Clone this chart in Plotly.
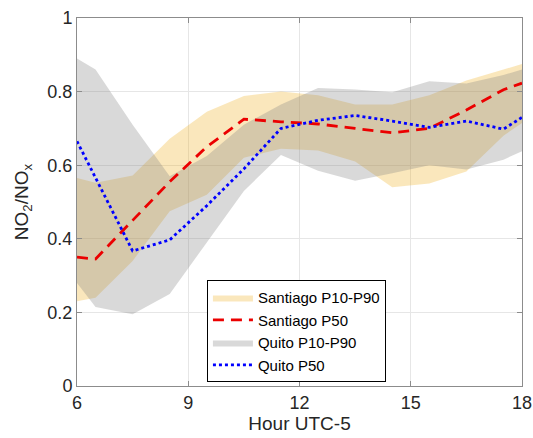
import plotly.graph_objects as go

hours = [6, 6.5, 7.5, 8.5, 9.5, 10.5, 11.5, 12.5, 13.5, 14.5, 15.5, 16.5, 17.5, 18]

santiago_p10 = [0.23, 0.24, 0.34, 0.475, 0.52, 0.62, 0.645, 0.64, 0.61, 0.54, 0.55, 0.583, 0.68, 0.715]
santiago_p50 = [0.35, 0.345, 0.45, 0.555, 0.65, 0.725, 0.718, 0.712, 0.70, 0.688, 0.70, 0.75, 0.805, 0.823]
santiago_p90 = [0.565, 0.552, 0.572, 0.672, 0.745, 0.788, 0.80, 0.79, 0.765, 0.765, 0.79, 0.83, 0.86, 0.875]

quito_p10 = [0.28, 0.215, 0.195, 0.25, 0.39, 0.53, 0.628, 0.585, 0.558, 0.578, 0.60, 0.588, 0.615, 0.638]
quito_p50 = [0.665, 0.565, 0.367, 0.397, 0.49, 0.59, 0.70, 0.722, 0.735, 0.72, 0.703, 0.72, 0.698, 0.73]
quito_p90 = [0.89, 0.86, 0.71, 0.57, 0.625, 0.71, 0.765, 0.81, 0.806, 0.798, 0.828, 0.822, 0.845, 0.86]

x_ticks = [6, 9, 12, 15, 18]
y_ticks = [0, 0.2, 0.4, 0.6, 0.8, 1]
y_tick_labels = ["0", "0.2", "0.4", "0.6", "0.8", "1"]

font = "Liberation Sans, Arial, sans-serif"

fig = go.Figure()
fig.add_trace(go.Scatter(
    x=hours + hours[::-1], y=santiago_p90 + santiago_p10[::-1],
    fill="toself", fillcolor="rgba(237,177,32,0.3)", line=dict(width=0),
    mode="lines", name="Santiago P10-P90", legendrank=1, hoverinfo="skip"))
fig.add_trace(go.Scatter(
    x=hours + hours[::-1], y=quito_p90 + quito_p10[::-1],
    fill="toself", fillcolor="rgba(128,128,128,0.3)", line=dict(width=0),
    mode="lines", name="Quito P10-P90", legendrank=3, hoverinfo="skip"))
fig.add_trace(go.Scatter(
    x=hours, y=santiago_p50, mode="lines", name="Santiago P50", legendrank=2,
    line=dict(color="rgb(235,0,0)", width=2.8, dash="11px,7px")))
fig.add_trace(go.Scatter(
    x=hours, y=quito_p50, mode="lines", name="Quito P50", legendrank=4,
    line=dict(color="rgb(0,0,255)", width=2.8, dash="dot")))

axis_common = dict(
    showgrid=True, gridcolor="rgb(230,230,230)", gridwidth=1,
    showline=True, linecolor="rgb(140,140,140)", linewidth=1, mirror="ticks",
    ticks="inside", ticklen=5, tickcolor="rgb(140,140,140)",
    tickfont=dict(family=font, size=18, color="rgb(38,38,38)"),
    zeroline=False, automargin=False,
)

fig.update_layout(
    width=533, height=438,
    margin=dict(l=77, r=11, t=18, b=52),
    paper_bgcolor="white", plot_bgcolor="white",
    showlegend=True,
    legend=dict(
        x=0.292, y=0.2875, xanchor="left", yanchor="top",
        bgcolor="white", bordercolor="black", borderwidth=1,
        font=dict(family=font, size=15, color="black"),
        itemwidth=40, tracegroupgap=0,
    ),
    xaxis=dict(range=[6, 18], tickvals=x_ticks,
               title=dict(text="Hour UTC-5", font=dict(family=font, size=19, color="rgb(38,38,38)"), standoff=4),
               **axis_common),
    yaxis=dict(range=[0, 1], tickvals=y_ticks, ticktext=y_tick_labels,
               title=dict(text="NO<sub>2</sub>/NO<sub>x</sub>", font=dict(family=font, size=19, color="rgb(38,38,38)"), standoff=13),
               **axis_common),
)

fig.write_html("out.html")
